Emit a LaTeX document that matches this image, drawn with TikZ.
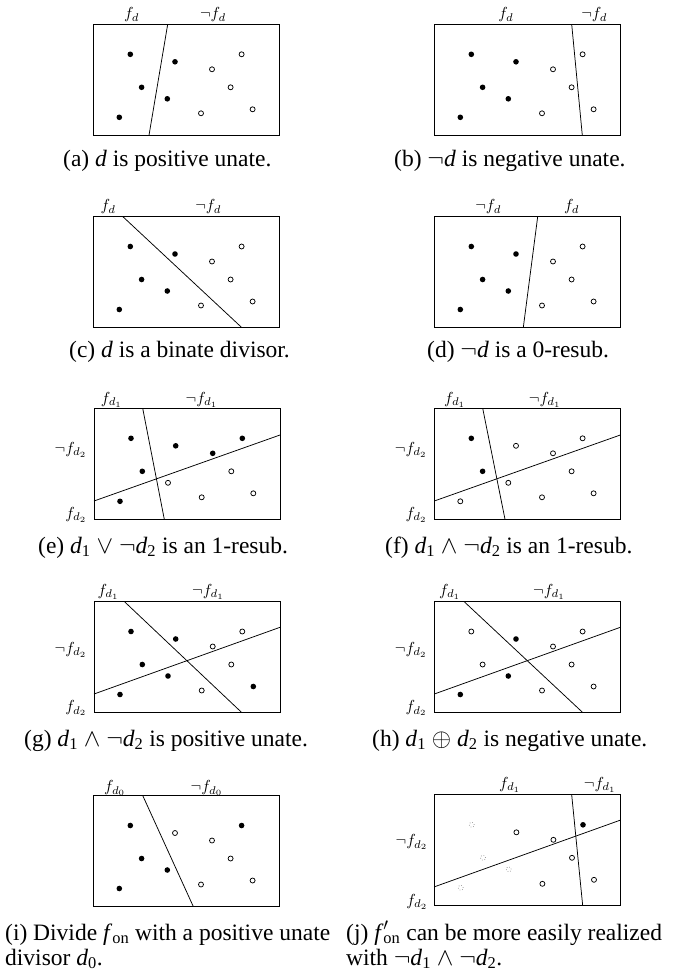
\documentclass[tikz,border=0pt]{standalone}
\usepackage[no-math]{fontspec}
\usepackage{graphicx}
\setmainfont{Liberation Serif}
\newcommand{\pts}[4]{%
  \foreach \tp [count=\k] in {#4} {%
    \pgfmathsetmacro\px{#2+{37,81.7,48.3,74,26,148.3,118.7,137.3,159.3,107.7}[\k-1]}%
    \pgfmathsetmacro\py{#3+{30,37.5,63,74.5,93,30,45,63,85,89}[\k-1]}%
    \edef\tmp{\noexpand\node[dot\tp] (#1-\k) at (\px,\py) {};}\tmp
  }}
\newcommand{\sd}[1]{\textit{d}\textsubscript{#1}}
\newcommand{\lb}[1]{\scalebox{1.6}{$#1$}}
\begin{document}
\begin{tikzpicture}[x=1pt,y=-1pt,
  frame/.style={draw,line width=0.9pt,minimum width=186pt,minimum height=111pt,anchor=north west,inner sep=0pt,outer sep=0pt},
  sep/.style={line width=0.75pt},
  dotf/.style={circle,fill=black,inner sep=0pt,minimum size=5.6pt},
  doto/.style={circle,draw=black,fill=white,line width=0.75pt,inner sep=0pt,minimum size=5pt},
  dotd/.style={circle,draw=black!60,dotted,line width=0.6pt,inner sep=0pt,minimum size=5pt},
  lab/.style={inner sep=0pt},
  llab/.style={lab,anchor=east},
  captxt/.style={font=\fontsize{23.5}{25}\selectfont,inner sep=0pt,anchor=base west},
]
\useasboundingbox (0,0) rectangle (673,977);

% ---------- (a)
\node[frame] (a) at (93.3,24.3) {};
\coordinate (a-t) at (167.7,24.3); \coordinate (a-b) at (149,135.3);
\draw[sep] (a-t) -- (a-b);
\pts{a}{93.3}{24.3}{f,f,f,f,f,o,o,o,o,o}
\node[lab] (a-l1) at (131.7,15) {\lb{f_d}};
\node[lab] (a-l2) at (213,15) {\lb{\neg f_d}};
\node[captxt] (a-cap) at (63,166) {(a) \textit{d} is positive unate.};

% ---------- (b)
\node[frame] (b) at (434.3,24.3) {};
\coordinate (b-t) at (571.7,24.3); \coordinate (b-b) at (582.3,135.3);
\draw[sep] (b-t) -- (b-b);
\pts{b}{434.3}{24.3}{f,f,f,f,f,o,o,o,o,o}
\node[lab] (b-l1) at (506,15) {\lb{f_d}};
\node[lab] (b-l2) at (594.3,15) {\lb{\neg f_d}};
\node[captxt] (b-cap) at (394,166) {(b) $\neg$\textit{d} is negative unate.};

% ---------- (c)
\node[frame] (c) at (93.3,216.5) {};
\coordinate (c-t) at (122.7,216.5); \coordinate (c-b) at (241.7,327.5);
\draw[sep] (c-t) -- (c-b);
\pts{c}{93.3}{216.5}{f,f,f,f,f,o,o,o,o,o}
\node[lab] (c-l1) at (108.3,206.7) {\lb{f_d}};
\node[lab] (c-l2) at (208.3,206.7) {\lb{\neg f_d}};
\node[captxt] (c-cap) at (69,357) {(c) \textit{d} is a binate divisor.};

% ---------- (d)
\node[frame] (d) at (434.3,216.5) {};
\coordinate (d-t) at (537.7,216.5); \coordinate (d-b) at (523.3,327.5);
\draw[sep] (d-t) -- (d-b);
\pts{d}{434.3}{216.5}{f,f,f,f,f,o,o,o,o,o}
\node[lab] (d-l1) at (488.3,206.7) {\lb{\neg f_d}};
\node[lab] (d-l2) at (571.7,206.7) {\lb{f_d}};
\node[captxt] (d-cap) at (427,357) {(d) $\neg$\textit{d} is a 0-resub.};

% ---------- (e)
\node[frame] (e) at (94,408.3) {};
\coordinate (e-t) at (142.7,408.3); \coordinate (e-b) at (164.3,519.3);
\coordinate (e-l) at (94,501); \coordinate (e-r) at (280,435);
\draw[sep] (e-t) -- (e-b);
\draw[sep] (e-l) -- (e-r);
\pts{e}{94}{408.3}{f,f,f,o,f,f,f,o,o,o}
\node[lab] (e-l1) at (111.7,400) {\lb{f_{d_1}}};
\node[lab] (e-l2) at (201.7,400) {\lb{\neg f_{d_1}}};
\node[llab] (e-l3) at (87,450) {\lb{\neg f_{d_2}}};
\node[llab] (e-l4) at (87,515) {\lb{f_{d_2}}};
\node[captxt] (e-cap) at (38,553) {(e) \sd{1} $\vee$ $\neg$\sd{2} is an 1-resub.};

% ---------- (f)
\node[frame] (f) at (434.3,408.3) {};
\coordinate (f-t) at (482.7,408.3); \coordinate (f-b) at (505,519.3);
\coordinate (f-l) at (434.3,501); \coordinate (f-r) at (620.3,435);
\draw[sep] (f-t) -- (f-b);
\draw[sep] (f-l) -- (f-r);
\pts{f}{434.3}{408.3}{f,o,f,o,o,o,o,o,o,o}
\node[lab] (f-l1) at (455,400) {\lb{f_{d_1}}};
\node[lab] (f-l2) at (545,400) {\lb{\neg f_{d_1}}};
\node[llab] (f-l3) at (427.3,450) {\lb{\neg f_{d_2}}};
\node[llab] (f-l4) at (427.3,515) {\lb{f_{d_2}}};
\node[captxt] (f-cap) at (385,553) {(f) \sd{1} $\wedge$ $\neg$\sd{2} is an 1-resub.};

% ---------- (g)
\node[frame] (g) at (94,601.5) {};
\coordinate (g-t) at (124.3,601.5); \coordinate (g-b) at (241.7,712.5);
\coordinate (g-l) at (94,694); \coordinate (g-r) at (280,627.3);
\draw[sep] (g-t) -- (g-b);
\draw[sep] (g-l) -- (g-r);
\pts{g}{94}{601.5}{f,f,f,f,f,o,o,o,f,o}
\node[lab] (g-l1) at (108.3,591.7) {\lb{f_{d_1}}};
\node[lab] (g-l2) at (208.3,591.7) {\lb{\neg f_{d_1}}};
\node[llab] (g-l3) at (87,650) {\lb{\neg f_{d_2}}};
\node[llab] (g-l4) at (87,708.3) {\lb{f_{d_2}}};
\node[captxt] (g-cap) at (24,746) {(g) \sd{1} $\wedge$ $\neg$\sd{2} is positive unate.};

% ---------- (h)
\node[frame] (h) at (434.3,601.5) {};
\coordinate (h-t) at (464,601.5); \coordinate (h-b) at (582.7,712.5);
\coordinate (h-l) at (434.3,694); \coordinate (h-r) at (620.3,627.3);
\draw[sep] (h-t) -- (h-b);
\draw[sep] (h-l) -- (h-r);
\pts{h}{434.3}{601.5}{o,f,o,f,f,o,o,o,o,o}
\node[lab] (h-l1) at (450,591.7) {\lb{f_{d_1}}};
\node[lab] (h-l2) at (549.3,591.7) {\lb{\neg f_{d_1}}};
\node[llab] (h-l3) at (427.3,650) {\lb{\neg f_{d_2}}};
\node[llab] (h-l4) at (427.3,708.3) {\lb{f_{d_2}}};
\node[captxt] (h-cap) at (372,746) {(h) \sd{1} $\oplus$ \sd{2} is negative unate.};

% ---------- (i)
\node[frame] (i) at (93.3,795.5) {};
\coordinate (i-t) at (142.7,795.5); \coordinate (i-b) at (193.3,906.5);
\draw[sep] (i-t) -- (i-b);
\pts{i}{93.3}{795.5}{f,o,f,f,f,f,o,o,o,o}
\node[lab] (i-l1) at (115,788.3) {\lb{f_{d_0}}};
\node[lab] (i-l2) at (206.7,788.3) {\lb{\neg f_{d_0}}};
\node[captxt] (i-cap1) at (5,940) {\makebox[325pt][s]{(i) Divide \textit{f}\textsubscript{on} with a positive unate}};
\node[captxt] (i-cap2) at (5,965) {divisor \sd{0}.};

% ---------- (j)
\node[frame] (j) at (434.7,794.8) {};
\coordinate (j-t) at (571.7,794.8); \coordinate (j-b) at (582.7,905.8);
\coordinate (j-l) at (434.7,886.7); \coordinate (j-r) at (620.7,820);
\draw[sep] (j-t) -- (j-b);
\draw[sep] (j-l) -- (j-r);
\pts{j}{434.7}{794.8}{d,o,d,d,d,f,o,o,o,o}
\node[lab] (j-l1) at (510,785) {\lb{f_{d_1}}};
\node[lab] (j-l2) at (600,785) {\lb{\neg f_{d_1}}};
\node[llab] (j-l3) at (428,842.3) {\lb{\neg f_{d_2}}};
\node[llab] (j-l4) at (428,901.7) {\lb{f_{d_2}}};
\node[captxt] (j-cap1) at (346,940) {(j) \textit{f}\rlap{$'$}\textsubscript{on} can be more easily realized};
\node[captxt] (j-cap2) at (346,965) {with $\neg$\sd{1} $\wedge$ $\neg$\sd{2}.};
\end{tikzpicture}
\end{document}
